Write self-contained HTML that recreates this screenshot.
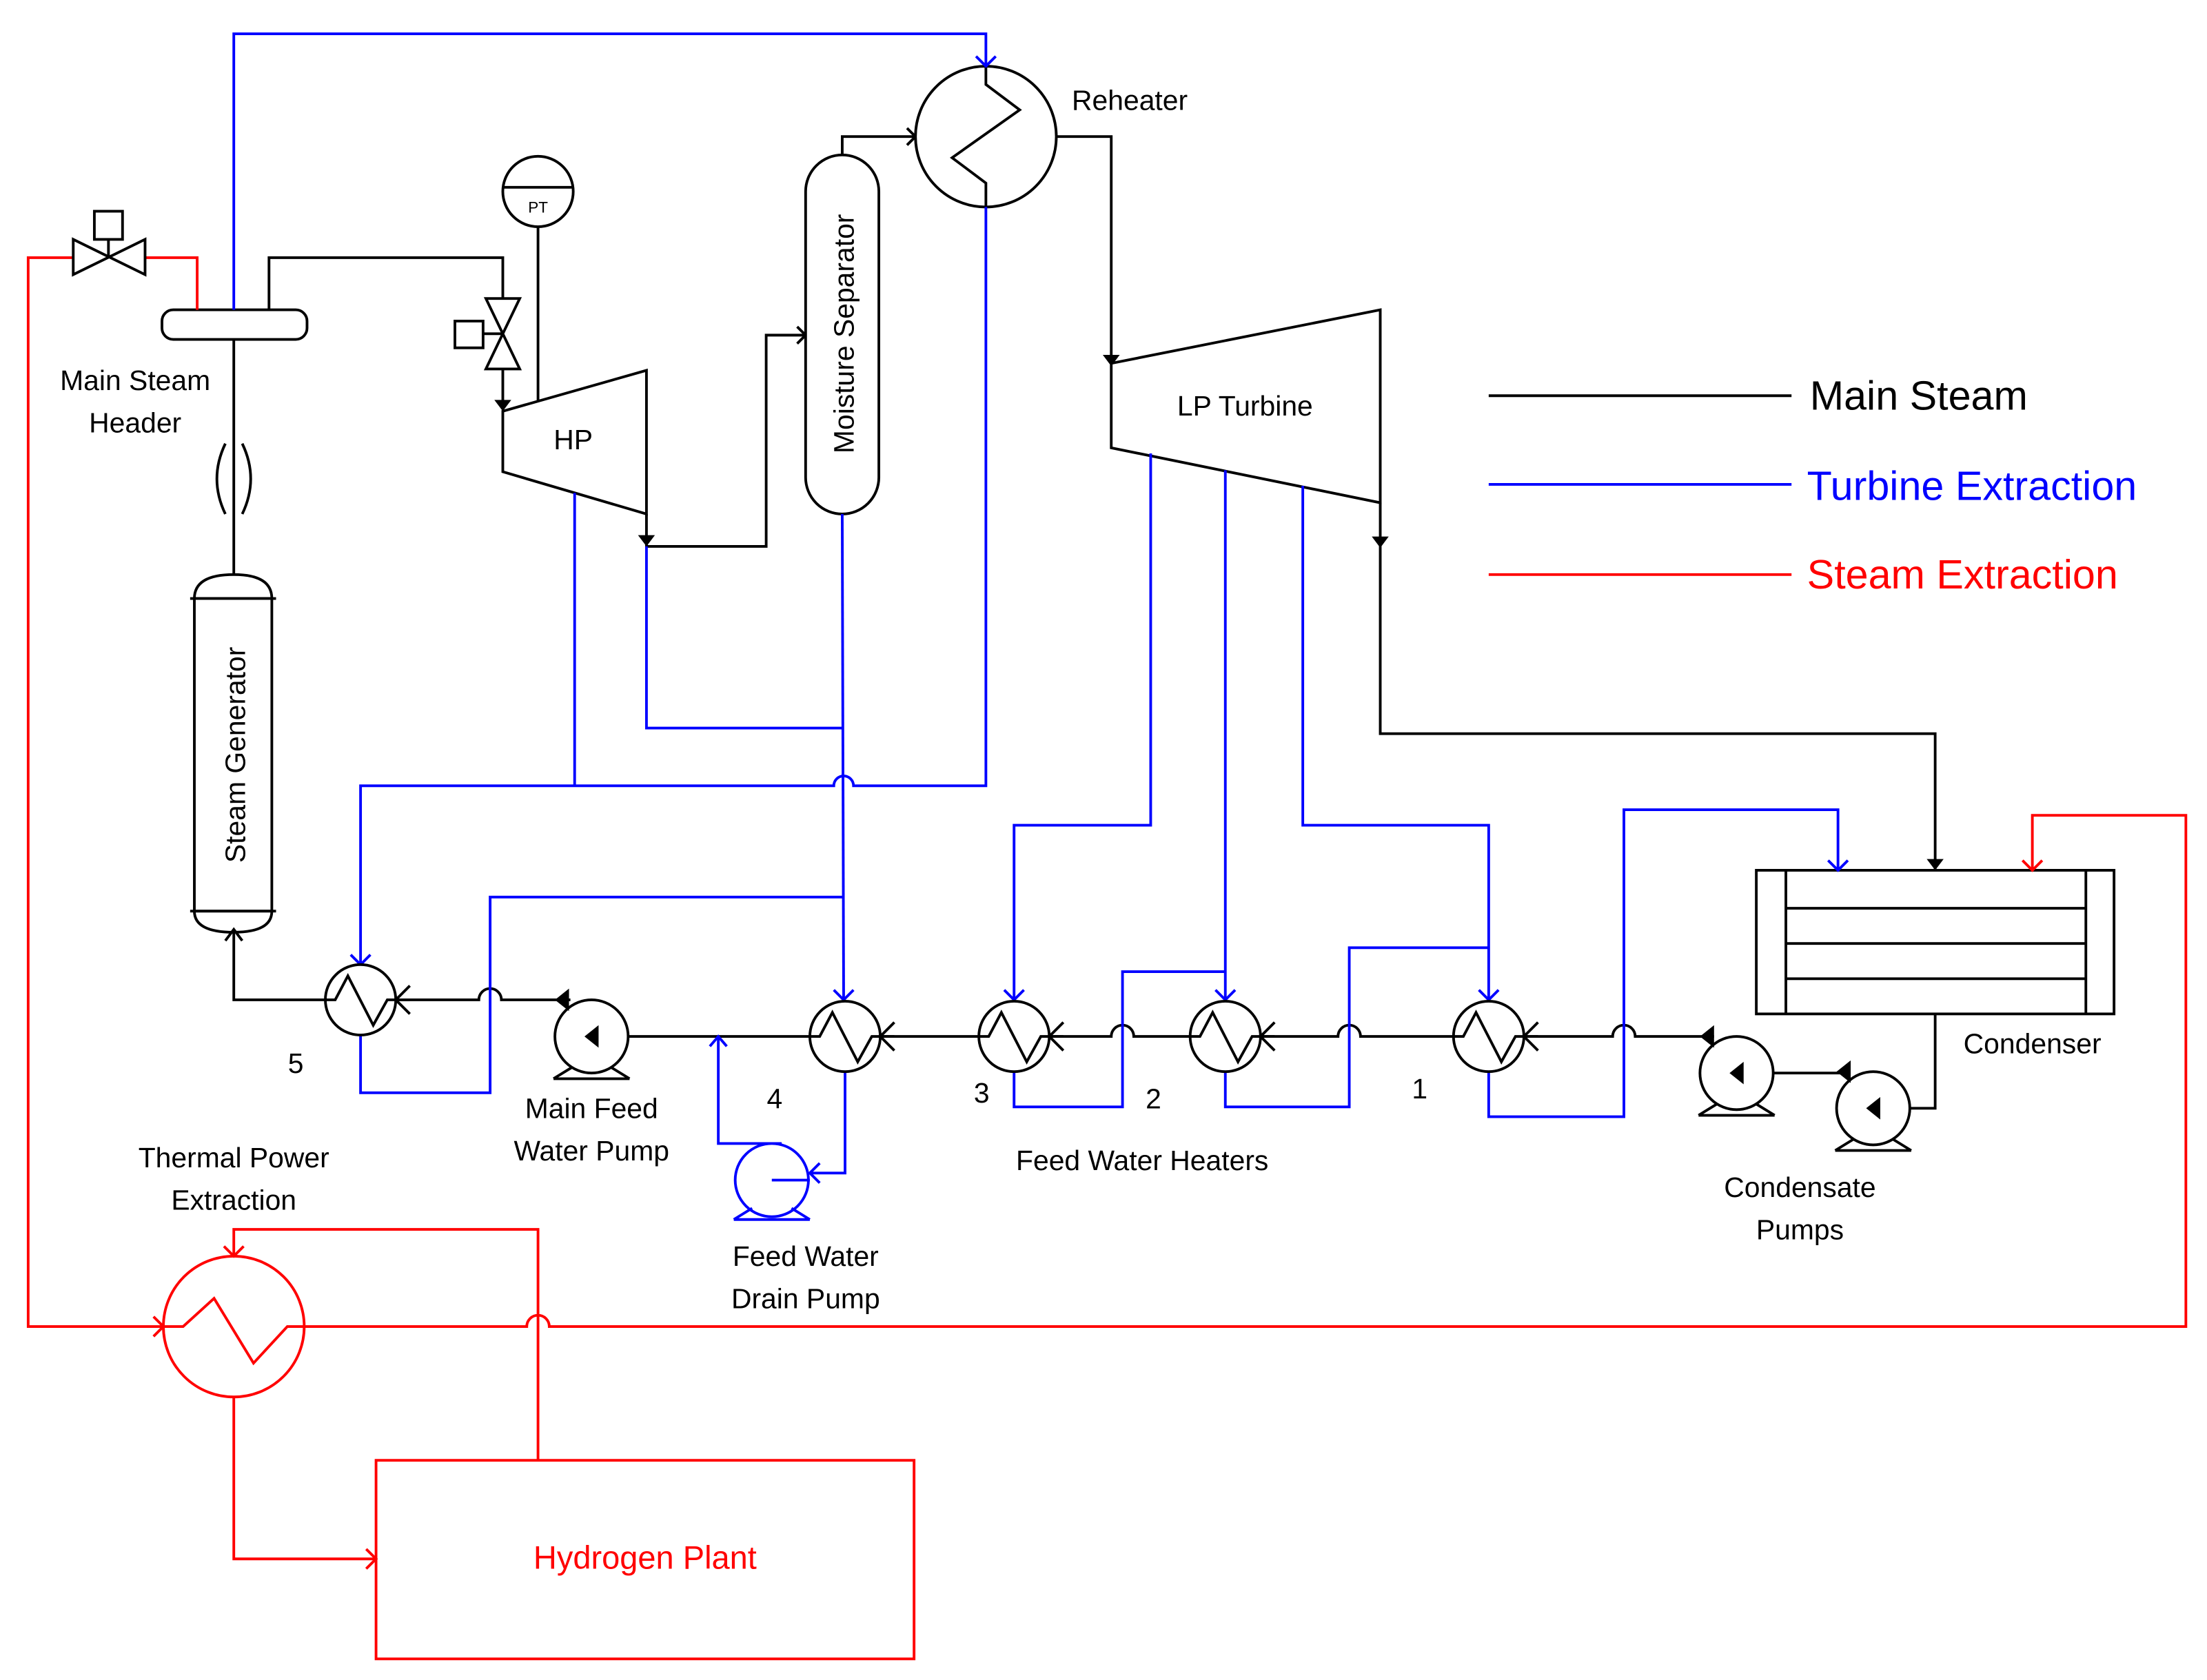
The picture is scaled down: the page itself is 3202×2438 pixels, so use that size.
<!DOCTYPE html>
<html><head><meta charset="utf-8"><style>html,body{margin:0;padding:0;background:#fff}svg{display:block}</style></head>
<body>
<svg width="3202" height="2438" viewBox="0 0 1567 1193" preserveAspectRatio="none" xmlns="http://www.w3.org/2000/svg" font-family="'Liberation Sans', sans-serif">
<defs>
<g id="hx">
<circle cx="0" cy="0" r="25" fill="#fff" stroke="#000" stroke-width="1.9"/>
<path d="M-25,0 h7 l9,-17 l18,35 l10,-18 h16" fill="none" stroke="#000" stroke-width="1.9"/>
<path d="M25,0 l10,-10 M25,0 l10,10" stroke="#000" stroke-width="1.9"/>
</g>
<g id="pump">
<circle cx="0" cy="0" r="26" fill="#fff" stroke="#000" stroke-width="1.9"/>
<path d="M-27,30 h54 M-27,30 l13,-8 M27,30 l-13,-8" stroke="#000" stroke-width="1.9" fill="none"/>
<path d="M-5,0 l10,-8 v16 z" fill="#000"/>
<path d="M-26,-26 l10,-8 v16 z" fill="#000"/>
</g>
</defs>
<g fill="none" stroke-width="1.9">
<g stroke="#000">
<rect x="115" y="220" width="103" height="21" rx="8" fill="#fff"/>
<path d="M191,220 V183 H357 V212"/>
<path d="M357,262 V290"/>
<path d="M345,212 h24 l-24,50 h24 z" fill="#fff"/>
<path d="M343,237 h14"/><rect x="323" y="228" width="20" height="19" fill="#fff"/>
<circle cx="382" cy="136" r="25" fill="#fff"/><path d="M357,133 h50 M382,161 V285"/>
<path d="M357,292 L459,263 V365 L357,335 Z" fill="#fff"/>
<path d="M459,365 V388 H544 V238 H572"/>
<path d="M566,232 l6,6 l-6,6"/>
<rect x="572" y="110" width="52" height="255" rx="26" fill="#fff"/>
<path d="M598,110 V97 H650"/><path d="M644,91 l6,6 l-6,6"/>
<circle cx="700" cy="97" r="50" fill="#fff"/>
<path d="M700,47 V60 L724,78 L676,112 L700,130 V147"/>
<path d="M750,97 H789 V258"/>
<path d="M789,258 L980,220 V357 L789,318 Z" fill="#fff"/>
<path d="M980,357 V521 H1374 V618"/>
<path d="M166,241 V408"/>
<path d="M160,315 q-12,25 0,50 M172,315 q12,25 0,50"/>
<path d="M138,425 q0,-17 28,-17 q27,0 27,17 M135,425 h61" fill="#fff"/>
<rect x="138" y="425" width="55" height="222" fill="#fff"/>
<path d="M135,647 h61 M138,647 q0,15 28,15 q27,0 27,-15"/>
<path d="M166,662 V710 H231"/>
<path d="M281,710 H340 a8,8 0 0 1 16,0 H405"/>
<path d="M446,736 H575"/>
<path d="M625,736 H695"/>
<path d="M745,736 H789 a8,8 0 0 1 16,0 H845"/>
<path d="M896,736 H950 a8,8 0 0 1 16,0 H1032"/>
<path d="M1082,736 H1145 a8,8 0 0 1 16,0 H1217"/>
<path d="M1233,762 H1314"/>
<path d="M1356,787 H1374 V720"/>
<rect x="1247" y="618" width="254" height="102" fill="#fff"/>
<path d="M1268,618 V720 M1481,618 V720 M1268,645 H1481 M1268,670 H1481 M1268,695 H1481"/>
<path d="M1057,281 H1272"/>
</g>
<g fill="#000" stroke="none">
<path d="M351,284 h12 l-6,8 z"/>
<path d="M453,380 h12 l-6,8 z"/>
<path d="M783,252 h12 l-6,8 z"/>
<path d="M974,381 h12 l-6,8 z"/>
<path d="M1368,610 h12 l-6,8 z"/>
<path d="M160,668 l6,-8 l6,8" fill="none" stroke="#000" stroke-width="1.9"/>
</g>
<g stroke="#00f">
<path d="M166,220 V24 H700 V47"/><path d="M693,40 l7,7 l7,-7"/>
<path d="M700,147 V558 H606 a7,7 0 0 0 -14,0 H256 V685"/>
<path d="M408,350 V558"/>
<path d="M459,388 V517 H598"/>
<path d="M598,365 L599,710"/>
<path d="M599,637 H348 V776 H256 V735"/>
<path d="M817,322 V586 H720 V710"/>
<path d="M870,334 V710"/>
<path d="M925,345 V586 H1057 V710"/>
<path d="M720,760 V786 H797 V690 H870"/>
<path d="M870,760 V786 H958 V673 H1057"/>
<path d="M1057,760 V793 H1153 V575 H1305 V618"/>
<path d="M600,760 V833 H575"/>
<path d="M555,812 H510 V736"/>
<path d="M504,743 l6,-7 l6,7"/>
<path d="M582,826 l-7,7 l7,7"/>
<path d="M249,678 l7,7 l7,-7 M592,703 l7,7 l7,-7 M713,703 l7,7 l7,-7 M863,703 l7,7 l7,-7 M1050,703 l7,7 l7,-7 M1298,611 l7,7 l7,-7"/>
<circle cx="548" cy="838" r="26" fill="#fff"/>
<path d="M548,838 H575"/>
<path d="M521,866 h54 M521,866 l13,-8 M575,866 l-13,-8"/>
<path d="M1057,344 H1272"/>
</g>
<g stroke="#f00">
<path d="M140,220 V183 H103 M52,183 H20 V942 H116"/>
<path d="M109,935 l7,7 l-7,7"/>
<path d="M216,942 H374 a8,8 0 0 1 16,0 H1552 V579 H1443 V618"/>
<path d="M1436,611 l7,7 l7,-7"/>
<circle cx="166" cy="942" r="50"/>
<path d="M116,942 H130 L152,922 L180,968 L204,942 H216"/>
<path d="M382,1037 V873 H166 V892"/><path d="M159,885 l7,7 l7,-7"/>
<path d="M166,992 V1107 H267"/><path d="M260,1100 l7,7 l-7,7"/>
<rect x="267" y="1037" width="382" height="141"/>
<path d="M1057,408 H1272"/>
</g>
<g stroke="#000">
<path d="M52,170 v25 l51,-25 v25 z" fill="#fff"/>
<path d="M77,182 V170"/><rect x="67" y="150" width="20" height="20" fill="#fff"/>
</g>
</g>
<use href="#hx" x="256" y="710"/>
<use href="#hx" x="600" y="736"/>
<use href="#hx" x="720" y="736"/>
<use href="#hx" x="870" y="736"/>
<use href="#hx" x="1057" y="736"/>
<use href="#pump" x="420" y="736"/>
<use href="#pump" x="1233" y="762"/>
<use href="#pump" x="1330" y="787"/>
<g font-size="20" fill="#000">
<text x="761" y="78">Reheater</text>
<text x="96" y="277" text-anchor="middle">Main Steam</text>
<text x="96" y="307" text-anchor="middle">Header</text>
<text x="382" y="151" font-size="11" text-anchor="middle">PT</text>
<text x="407" y="319" text-anchor="middle">HP</text>
<text x="884" y="295" text-anchor="middle">LP Turbine</text>
<text transform="translate(606,237) rotate(-90)" text-anchor="middle">Moisture Separator</text>
<text transform="translate(174,536) rotate(-90)" text-anchor="middle">Steam Generator</text>
<text x="210" y="762" text-anchor="middle">5</text>
<text x="550" y="787" text-anchor="middle">4</text>
<text x="697" y="783" text-anchor="middle">3</text>
<text x="819" y="787" text-anchor="middle">2</text>
<text x="1008" y="780" text-anchor="middle">1</text>
<text x="420" y="794" text-anchor="middle">Main Feed</text>
<text x="420" y="824" text-anchor="middle">Water Pump</text>
<text x="166" y="829" text-anchor="middle">Thermal Power</text>
<text x="166" y="859" text-anchor="middle">Extraction</text>
<text x="572" y="899" text-anchor="middle">Feed Water</text>
<text x="572" y="929" text-anchor="middle">Drain Pump</text>
<text x="811" y="831" text-anchor="middle">Feed Water Heaters</text>
<text x="1443" y="748" text-anchor="middle">Condenser</text>
<text x="1278" y="850" text-anchor="middle">Condensate</text>
<text x="1278" y="880" text-anchor="middle">Pumps</text>
<text x="458" y="1114" text-anchor="middle" fill="#f00" font-size="23">Hydrogen Plant</text>
<text x="1285" y="291" font-size="29">Main Steam</text>
<text x="1283" y="355" font-size="29" fill="#00f">Turbine Extraction</text>
<text x="1283" y="418" font-size="29" fill="#f00">Steam Extraction</text>
</g>
</svg>
</body></html>
